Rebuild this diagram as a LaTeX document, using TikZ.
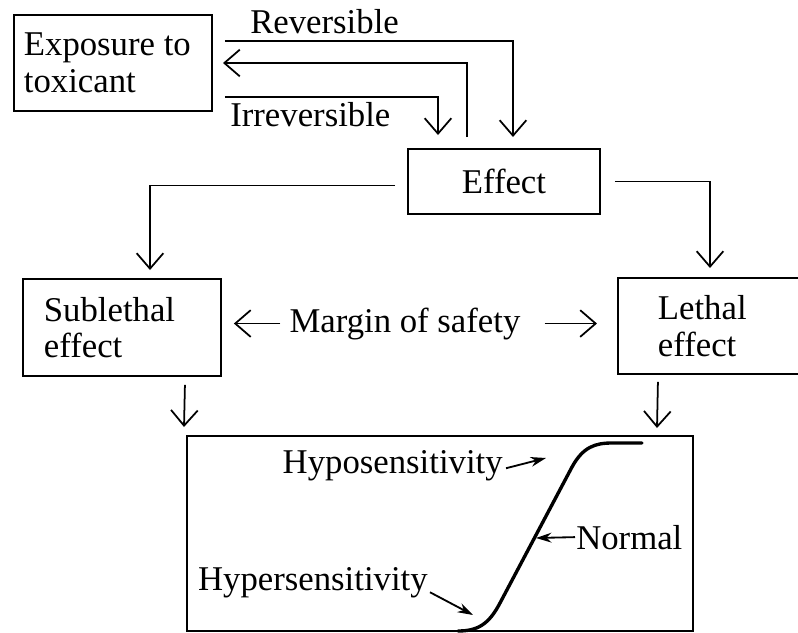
\documentclass[tikz,border=0pt]{standalone}
\usepackage{fontspec}
\setmainfont{Liberation Serif}
\usetikzlibrary{arrows.meta}
\tikzset{
  box/.style={draw, line width=1.3pt, anchor=north west, inner sep=0pt},
  con/.style={line width=1.25pt, -{Straight Barb[length=11pt,width=19pt,line width=1.25pt]}},
  lab/.style={line width=1.3pt, -{Stealth[length=11pt,width=7pt]}},
  txt/.style={inner sep=0pt},
}
\begin{document}
\begin{tikzpicture}[x=0.025cm, y=-0.025cm, font=\fontsize{24.7}{26}\selectfont]
  \useasboundingbox (0,0) rectangle (798,633);
  % boxes
  \node[box, minimum width=4.95cm, minimum height=2.4cm, inner xsep=0.25cm,
        text width=4.45cm, align=flush left] (expo) at (13,14) {Exposure to\\toxicant};
  \node[box, minimum width=4.8cm, minimum height=1.625cm] (effect) at (407,148) {Effect};
  \node[box, minimum width=4.95cm, minimum height=2.425cm, inner xsep=0.525cm,
        text width=3.9cm, align=flush left] (sub) at (22,278) {Sublethal\\effect};
  \node[box, minimum width=4.625cm, minimum height=2.4cm, inner xsep=1cm,
        text width=2.625cm, align=flush left] (lethal) at (617,277) {Lethal\\effect};
  \node[box, minimum width=12.65cm, minimum height=4.875cm] (resp) at (186,435) {};
  % labels
  \node[txt, anchor=base west] (rev) at (250,33) {Reversible};
  \node[txt, anchor=base west] (irr) at (230,126) {Irreversible};
  \node[txt, anchor=base] (margin) at (405,332) {Margin of safety};
  \node[txt, anchor=base east] (hypo) at (503,473) {Hyposensitivity};
  \node[txt, anchor=base west] (normal) at (576,549) {Normal};
  \node[txt, anchor=base east] (hyper) at (428,590) {Hypersensitivity};
  % arrow ends
  \coordinate (revtip) at (513,137);
  \coordinate (irrtip) at (438,135);
  \coordinate (backtip) at (223,63);
  \coordinate (subtip) at (150,270);
  \coordinate (lettip) at (710,268);
  \coordinate (respL) at (184,427);
  \coordinate (respR) at (657,428);
  \coordinate (hypotip) at (546,458);
  \coordinate (normtip) at (536,538);
  \coordinate (hypertip) at (473,615);
  % connectors
  \draw[con] (expo.east) ++(12,-22) -| (revtip);
  \draw[con] (effect.north) ++(-37,-11) |- (backtip);
  \draw[con] (expo.east) ++(12,34) -| (irrtip);
  \draw[con] (effect.west) ++(-12,4) -| (subtip);
  \draw[con] (effect.east) ++(14,0) -| (lettip);
  \draw[con, shorten <=0.225cm, shorten >=0.3cm] (margin.west) -- (margin.west -| sub.east);
  \draw[con, shorten <=0.6cm, shorten >=0.5cm] (margin.east) -- (margin.east -| lethal.west);
  \draw[con] (sub.south) ++(63,8) -- (respL);
  \draw[con] (lethal.south) ++(-52.5,7) -- (respR);
  % response curve
  \draw[line width=2.4pt, line cap=round] (458,631) .. controls (478,631) and (489,624) .. (500,603)
    -- (572,467) .. controls (583,447) and (595,443) .. (612,443) -- (642,443);
  \draw[lab] (hypo.east) ++(3,3) -- (hypotip);
  \draw[lab] (normal.west) ++(-1,0) -- (normtip);
  \draw[lab] (hyper.east) ++(2,10) -- (hypertip);
\end{tikzpicture}
\end{document}
